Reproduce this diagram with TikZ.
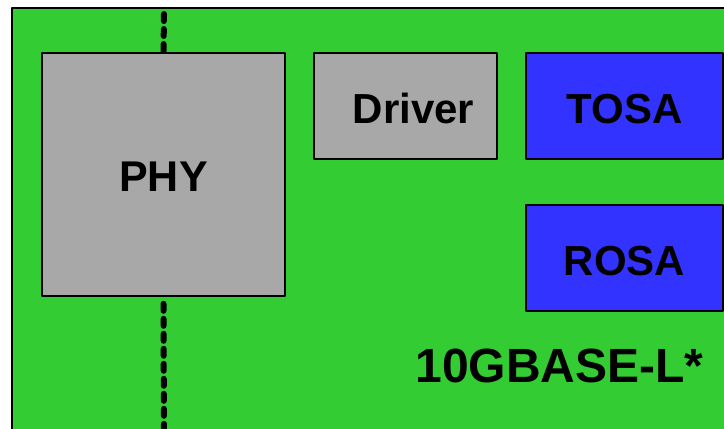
\documentclass[tikz,border=0pt]{standalone}
\usepackage{fontspec}
\setmainfont{Liberation Sans}
\usepackage{tikz}
\definecolor{boardgreen}{HTML}{33CC33}
\definecolor{boxgray}{HTML}{A8A8A8}
\definecolor{optblue}{HTML}{3333FF}
\tikzset{
  blk/.style={draw=black, line width=1.6pt, minimum width=#1, inner sep=0pt,
    text height=34pt, text depth=0pt,
    font=\fontsize{42}{50}\selectfont\bfseries},
  bus/.style={line width=6pt, line cap=round, dash pattern=on 7pt off 8pt}
}

\begin{document}
\begin{tikzpicture}[x=1pt, y=-1pt, line join=round]
\useasboundingbox (0,0) rectangle (724,429);
\clip (0,0) rectangle (724,429);
\draw[line width=1.6pt, fill=boardgreen] (12,8) rectangle (760,460);
\node[blk=243pt, minimum height=243pt, fill=boxgray] (phy) at (163.5,174.5) {\fontsize{43}{50}\selectfont PHY};
\node[blk=183pt, minimum height=106pt, fill=boxgray] (drv) at (405.5,106) {\hspace*{16pt}Driver};
\node[blk=197pt, minimum height=106pt, fill=optblue] (tosa) at (624.5,106) {TOSA};
\node[blk=197pt, minimum height=106pt, fill=optblue] (rosa) at (624.5,258) {ROSA};
\coordinate (bustop) at (164,14);
\coordinate (busbot) at (164,440);
\draw[bus] (bustop) -- (phy.north);
\draw[bus] (phy.south) ++(0,7) -- (busbot);
\node[font=\fontsize{48}{56}\selectfont\bfseries, inner sep=0pt] (name) at (559.5,366) {10GBASE-L*};
\end{tikzpicture}
\end{document}
